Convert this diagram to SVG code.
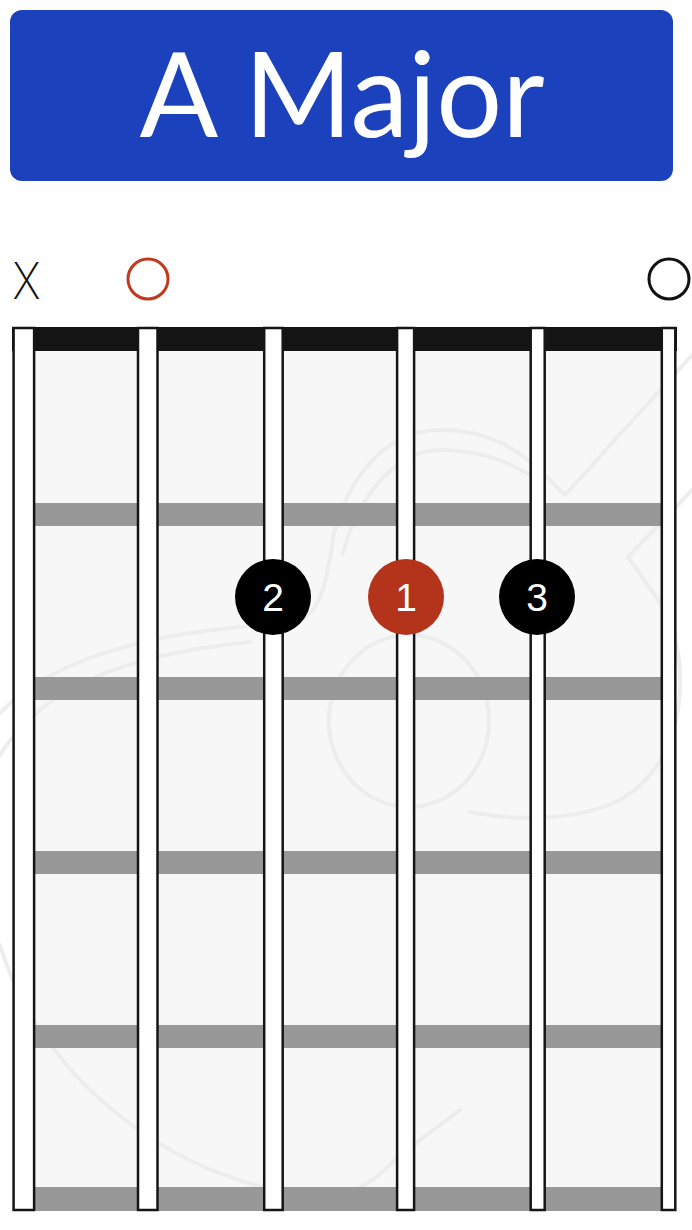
<svg xmlns="http://www.w3.org/2000/svg" width="692" height="1230" viewBox="0 0 692 1230">
<style>
.str{fill:#fff;stroke:#151515;stroke-width:2.5}
.fret{fill:#989898}
.wm{fill:none;stroke:#ededed;stroke-width:4;stroke-linecap:round;stroke-linejoin:round}
.num{font-family:"Liberation Sans",Arial,sans-serif;font-size:39px;fill:#fff;text-anchor:middle}
</style>
<rect width="692" height="1230" fill="#fff"/>
<g id="title">
<rect x="10" y="10" width="663" height="171" rx="12" fill="#1b42bc"/>
<text x="342" y="137" font-family="Lato,'Noto Sans',sans-serif" font-size="118" fill="#fff" text-anchor="middle" textLength="405" lengthAdjust="spacingAndGlyphs">A Major</text>
</g>
<g id="markers">
<text x="26.5" y="299" font-family="Inter,'Liberation Sans',sans-serif" font-weight="200" font-size="50" fill="#111" text-anchor="middle" textLength="28" lengthAdjust="spacingAndGlyphs">X</text>
<circle cx="148" cy="279" r="20" fill="none" stroke="#c0391f" stroke-width="3"/>
<circle cx="669" cy="279" r="20" fill="none" stroke="#111" stroke-width="3"/>
</g>
<g id="fretboard">
<rect x="34" y="351" width="628" height="860" fill="#f7f7f7"/>
<g id="watermark">
<ellipse class="wm" cx="409" cy="721" rx="80" ry="86"/>
<path class="wm" d="M0 713 C60 650 180 628 290 624 C320 620 328 580 333 537 C350 470 390 430 440 430 C490 430 520 450 548 478 L565 495 L692 355"/>
<path class="wm" d="M343 553 C360 490 400 450 440 450 C480 450 510 462 533 477"/>
<path class="wm" d="M692 490 L628 557 L665 610 C690 660 690 760 620 800 C580 820 520 822 470 812"/>
<path class="wm" d="M0 755 C40 690 120 655 250 642"/>
<path class="wm" d="M0 945 C40 1080 180 1190 330 1197 C360 1195 385 1170 400 1155 L460 1110"/>
</g>
<rect x="12" y="327" width="665" height="24" fill="#141414"/>
<rect class="fret" x="34" y="503" width="628" height="23"/>
<rect class="fret" x="34" y="677" width="628" height="23"/>
<rect class="fret" x="34" y="851" width="628" height="23"/>
<rect class="fret" x="34" y="1025" width="628" height="23"/>
<rect class="fret" x="34" y="1187" width="628" height="24"/>
</g>
<g id="strings">
<rect class="str" x="13.6" y="328" width="20.5" height="882"/>
<rect class="str" x="138" y="328" width="19.5" height="882"/>
<rect class="str" x="264.2" y="328" width="18.5" height="882"/>
<rect class="str" x="397.1" y="328" width="17" height="882"/>
<rect class="str" x="530.7" y="328" width="14" height="882"/>
<rect class="str" x="661.8" y="328" width="13.5" height="882"/>
</g>
<g id="dot-2">
<circle cx="273" cy="597" r="38" fill="#000"/>
<text class="num" x="273" y="611">2</text>
</g>
<g id="dot-1">
<circle cx="406" cy="597" r="38" fill="#b3341b"/>
<text class="num" x="406" y="611">1</text>
</g>
<g id="dot-3">
<circle cx="537" cy="597" r="38" fill="#000"/>
<text class="num" x="537" y="611">3</text>
</g>
</svg>
